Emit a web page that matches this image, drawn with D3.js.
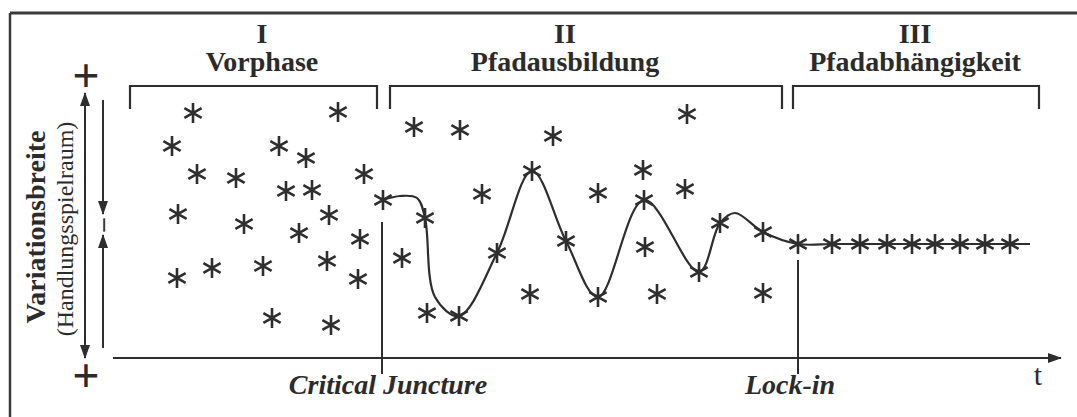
<!DOCTYPE html>
<html>
<head>
<meta charset="utf-8">
<script src="https://cdn.jsdelivr.net/npm/d3@7"></script>
<style>
    body { margin: 0; background: #fff; }
    svg { display: block; }
    text { font-family: "Liberation Serif", "Times New Roman", serif; fill: #2b2b2b; }
</style>
</head>
<body>
<div id="chart"></div>
<script>
// phases shown above the plot
const phaseNumerals = ["I", "II", "III"];
const phaseNames = ["Vorphase", "Pfadausbildung", "Pfadabhängigkeit"];
const phaseStart = [17, 277, 680];
const phaseEnd = [264, 669, 926];
const phaseLabelT = [149, 452, 802];

// scattered alternatives in phase I (t, variation)
const vorphaseStars = [
    [80, 245], [225, 246], [59, 212], [166, 212], [193, 200], [84, 184],
    [123, 180], [251, 184], [173, 167], [199, 168], [65, 144], [216, 143],
    [131, 134], [186, 125], [247, 119], [99, 90], [150, 92], [214, 97],
    [64, 80], [245, 79], [159, 40], [218, 33]
];

// alternatives left aside in phase II
const ausbildungStars = [
    [301, 231], [347, 228], [440, 222], [369, 164], [289, 100], [314, 45],
    [417, 64], [485, 165], [574, 244], [530, 188], [572, 169], [532, 111],
    [544, 64], [650, 65]
];

// the path that forms in phase II (stars sit on it)
const pathT = [270, 312, 346, 384, 419, 453, 485, 531, 586, 607, 650];
const pathV = [158, 140, 42, 105, 187, 117, 61, 158, 86, 135, 126];

const curveShapeT = [287, 304, 322, 622];
const curveShapeV = [162, 160, 61, 145];

// locked-in path in phase III
const lockInT = [685, 719, 747, 774, 799, 822, 847, 872, 897];
const lockInV = 114;
const lockInEndT = 917;

// critical juncture and lock-in markers
const markerT = [269, 685];
const markerTopV = [136, 98];
const markerLabels = ["Critical Juncture", "Lock-in"];

let width = 1077,
    height = 417;

let svg = d3.select("#chart")
    .append("svg")
    .attr("width", width)
    .attr("height", height);

let ink = "#2e2e2e";

//Scales: t along the bottom, variation up the side
let x = d3.scaleLinear().domain([0, 948]).range([113, 1061]);
let y = d3.scaleLinear().domain([0, 265]).range([358, 93]);

//Arrow heads
let defs = svg.append("defs");
defs.append("marker")
    .attr("id", "head")
    .attr("viewBox", "0 0 14 10")
    .attr("refX", 13)
    .attr("refY", 5)
    .attr("markerWidth", 14)
    .attr("markerHeight", 10)
    .attr("markerUnits", "userSpaceOnUse")
    .attr("orient", "auto-start-reverse")
    .append("path")
    .attr("d", "M0,0 L14,5 L0,10 Z")
    .style("fill", ink);

//Frame of the scanned figure
svg.append("line")
    .attr("x1", 10).attr("y1", 13)
    .attr("x2", width).attr("y2", 13)
    .style("stroke", "#3a3a3a")
    .style("stroke-width", 3);
svg.append("line")
    .attr("x1", 10).attr("y1", 13)
    .attr("x2", 10).attr("y2", height)
    .style("stroke", "#3a3a3a")
    .style("stroke-width", 2.5);

//Phase headings and brackets
let phases = svg.selectAll(".phase")
    .data(phaseNames)
    .enter()
    .append("g")
    .attr("class", "phase");

phases.append("text")
    .attr("x", (d, i) => x(phaseLabelT[i]))
    .attr("y", 43)
    .attr("text-anchor", "middle")
    .style("font-size", "28px")
    .style("font-weight", "bold")
    .text((d, i) => phaseNumerals[i]);

phases.append("text")
    .attr("x", (d, i) => x(phaseLabelT[i]))
    .attr("y", 71)
    .attr("text-anchor", "middle")
    .style("font-size", "28px")
    .style("font-weight", "bold")
    .text(d => d);

phases.append("path")
    .attr("d", (d, i) => {
        let x0 = x(phaseStart[i]),
            x1 = x(phaseEnd[i]);
        return "M" + x0 + ",109 V86 H" + x1 + " V109";
    })
    .style("fill", "none")
    .style("stroke", ink)
    .style("stroke-width", 2.2);

//Time axis
svg.append("line")
    .attr("x1", x(0)).attr("y1", y(0))
    .attr("x2", x(948)).attr("y2", y(0))
    .attr("marker-end", "url(#head)")
    .style("stroke", ink)
    .style("stroke-width", 2.2);

svg.append("text")
    .attr("x", 1038)
    .attr("y", 385)
    .attr("text-anchor", "middle")
    .style("font-size", "30px")
    .text("t");

//Variation axis: double arrow plus narrowing arrows
svg.append("line")
    .attr("x1", 85).attr("y1", y(0))
    .attr("x2", 85).attr("y2", y(265))
    .attr("marker-start", "url(#head)")
    .attr("marker-end", "url(#head)")
    .style("stroke", ink)
    .style("stroke-width", 2);

svg.append("line")
    .attr("x1", 103).attr("y1", y(258))
    .attr("x2", 103).attr("y2", y(144))
    .attr("marker-end", "url(#head)")
    .style("stroke", ink)
    .style("stroke-width", 2);

svg.append("line")
    .attr("x1", 103).attr("y1", y(10))
    .attr("x2", 103).attr("y2", y(123))
    .attr("marker-end", "url(#head)")
    .style("stroke", ink)
    .style("stroke-width", 2);

svg.append("text")
    .attr("transform", "translate(110," + y(133) + ") rotate(-90)")
    .attr("text-anchor", "middle")
    .style("font-size", "26px")
    .style("font-weight", "bold")
    .text("–");

svg.selectAll(".plus")
    .data([280, -20])
    .enter()
    .append("text")
    .attr("class", "plus")
    .attr("x", 86)
    .attr("y", d => y(d) + 14)
    .attr("text-anchor", "middle")
    .style("font-size", "48px")
    .style("font-weight", "bold")
    .text("+");

svg.append("text")
    .attr("transform", "translate(45,227) rotate(-90)")
    .attr("text-anchor", "middle")
    .style("font-size", "28px")
    .style("font-weight", "bold")
    .text("Variationsbreite");

svg.append("text")
    .attr("transform", "translate(73,229) rotate(-90)")
    .attr("text-anchor", "middle")
    .style("font-size", "24px")
    .text("(Handlungsspielraum)");

//Critical juncture and lock-in markers
svg.selectAll(".marker")
    .data(markerT)
    .enter()
    .append("line")
    .attr("class", "marker")
    .attr("x1", d => x(d)).attr("x2", d => x(d))
    .attr("y1", (d, i) => y(markerTopV[i]))
    .attr("y2", y(0) + 16)
    .style("stroke", ink)
    .style("stroke-width", 2);

svg.selectAll(".markerLabel")
    .data(markerLabels)
    .enter()
    .append("text")
    .attr("class", "markerLabel")
    .attr("x", (d, i) => x(markerT[i]) + (i === 0 ? 6 : -8))
    .attr("y", 394)
    .attr("text-anchor", "middle")
    .style("font-size", "28px")
    .style("font-weight", "bold")
    .style("font-style", "italic")
    .text(d => d);

//The path: curve through phase II, flat after lock-in
let pathPoints = pathT.map((t, i) => [t, pathV[i]])
    .concat(curveShapeT.map((t, i) => [t, curveShapeV[i]]))
    .sort((a, b) => a[0] - b[0])
    .concat(lockInT.map(t => [t, lockInV]))
    .concat([[lockInEndT, lockInV]]);

let pathLine = d3.line()
    .curve(d3.curveCatmullRom)
    .x(d => x(d[0]))
    .y(d => y(d[1]));

svg.append("path")
    .attr("d", pathLine(pathPoints))
    .style("fill", "none")
    .style("stroke", ink)
    .style("stroke-width", 2.2);

//Asterisks
let star = d3.symbol().type(d3.symbolAsterisk).size(280);
let allStars = vorphaseStars
    .concat(ausbildungStars)
    .concat(pathT.map((t, i) => [t, pathV[i]]))
    .concat(lockInT.map(t => [t, lockInV]));

svg.selectAll(".star")
    .data(allStars)
    .enter()
    .append("path")
    .attr("class", "star")
    .attr("transform", d => "translate(" + x(d[0]) + "," + y(d[1]) + ")")
    .attr("d", star)
    .style("fill", "none")
    .style("stroke", ink)
    .style("stroke-width", 2.6);
</script>
</body>
</html>
